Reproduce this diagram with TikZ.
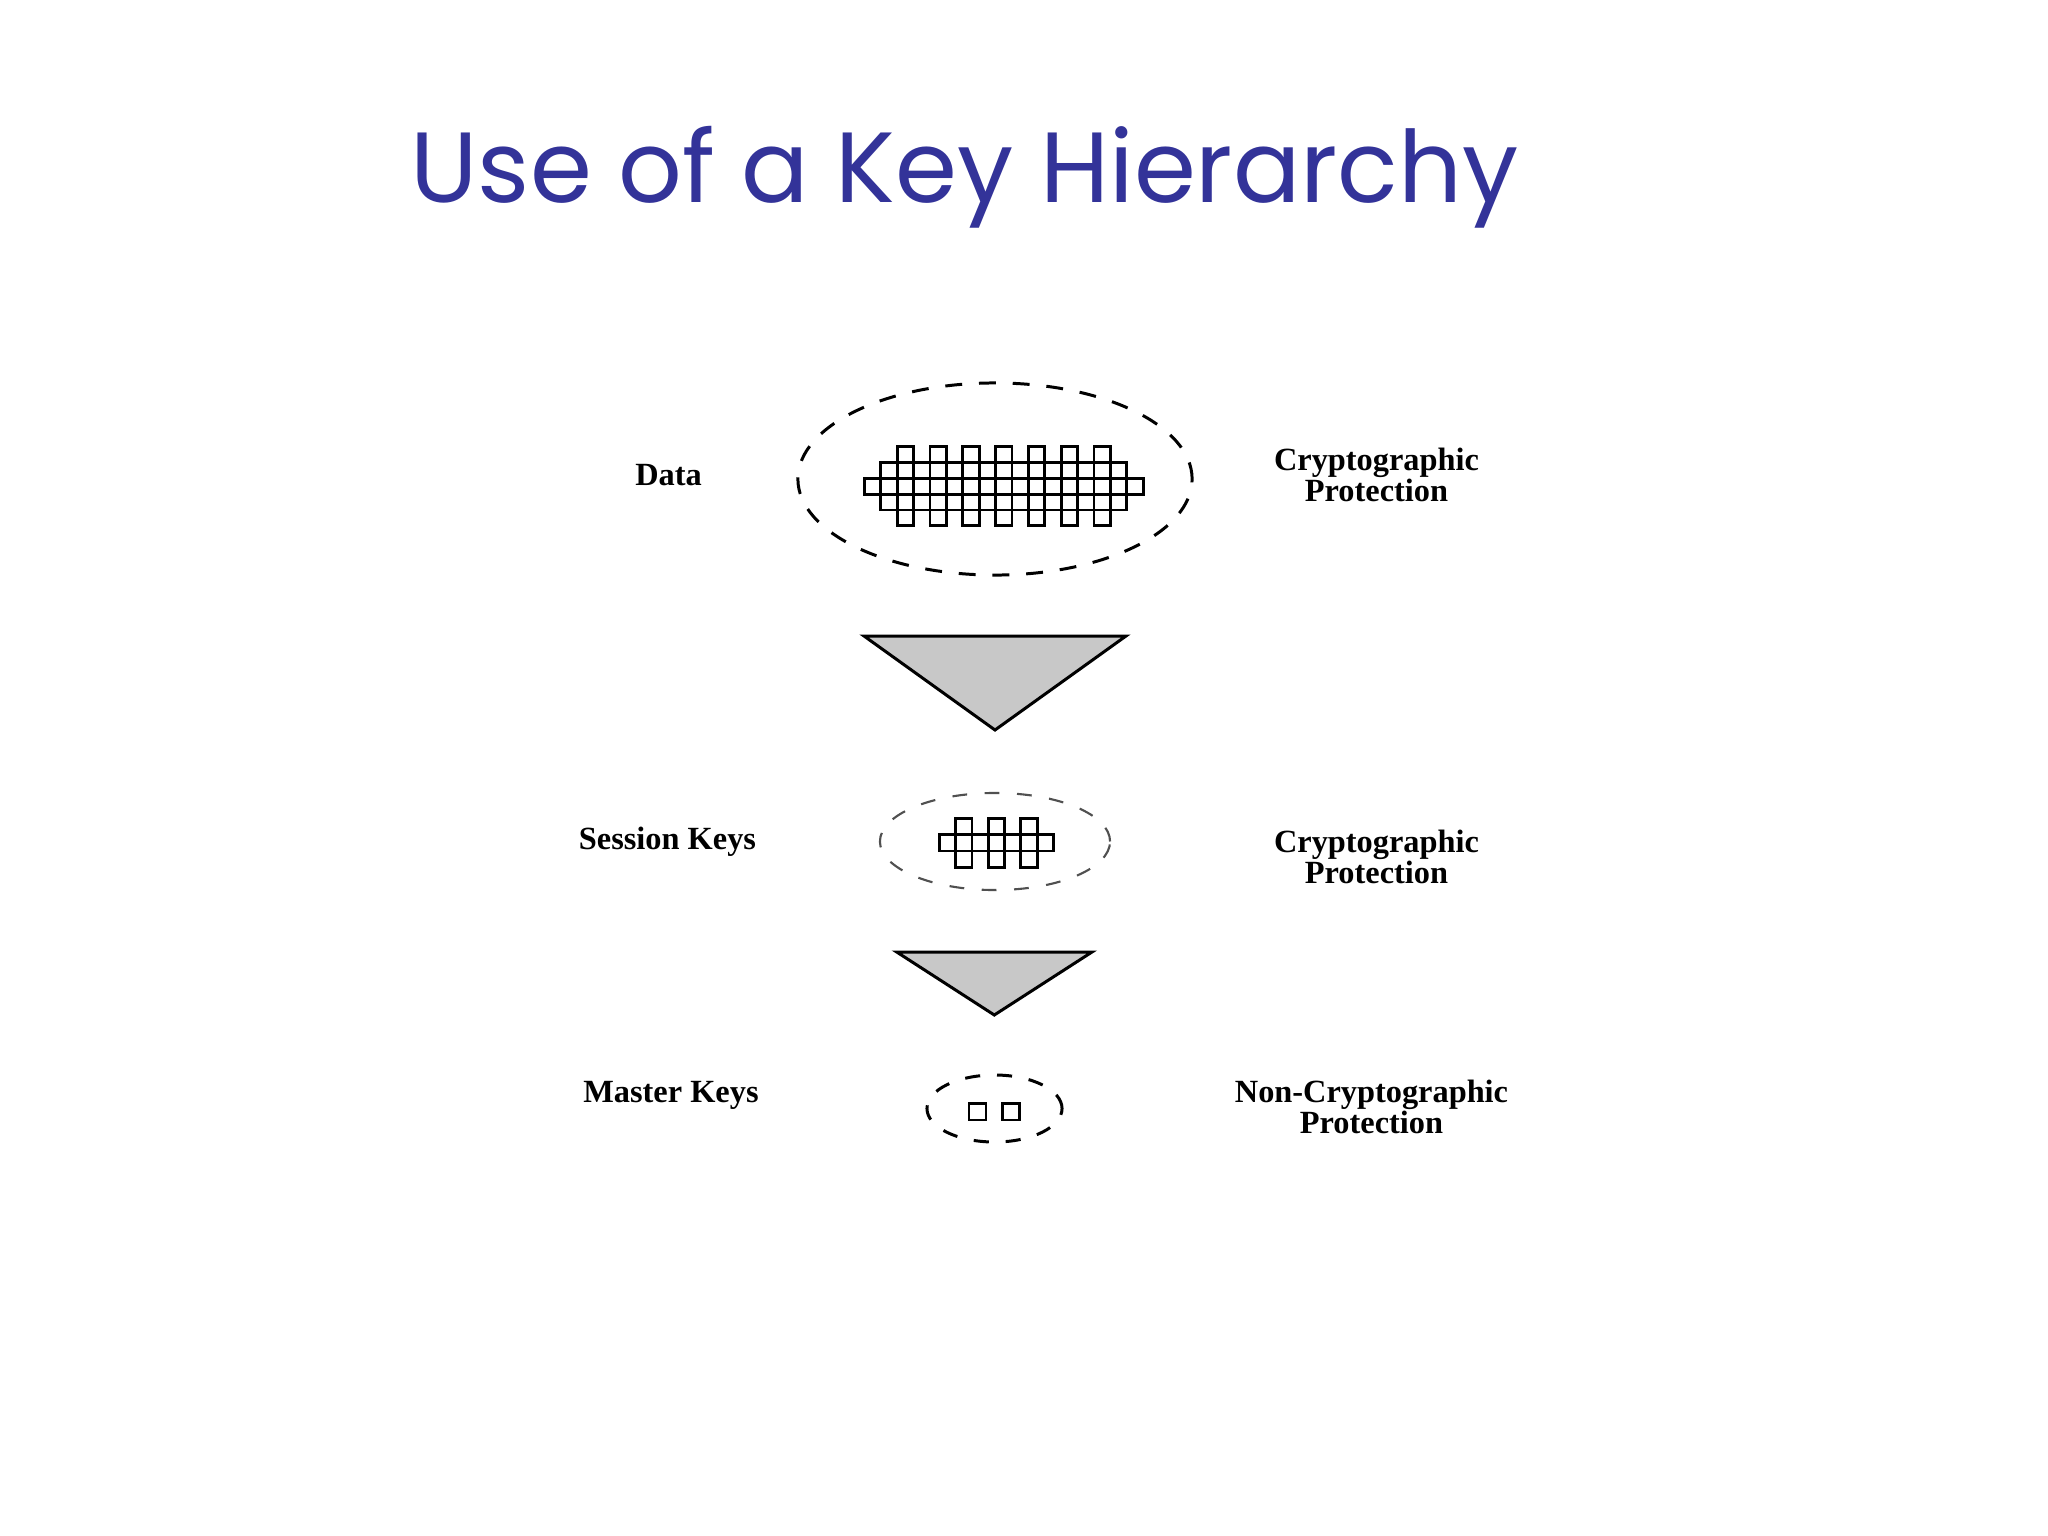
\documentclass[tikz,border=0pt]{standalone}
\usepackage{fontspec}
\setmainfont{Liberation Serif}
\newfontfamily\titlefont{Poppins}
\usetikzlibrary{shapes.geometric}
\definecolor{titleblue}{HTML}{333399}
\definecolor{trigray}{HTML}{C8C8C8}
\definecolor{dashgray}{HTML}{505050}
\begin{document}
\begin{tikzpicture}[x=0.01cm,y=-0.01cm,
  lbl/.style={font=\fontsize{9.2}{8.8}\selectfont\bfseries, anchor=base, inner sep=0pt, align=center},
  cell/.style={draw=black, line width=0.8pt},
  tri/.style={draw=black, fill=trigray, line width=0.85pt, line join=miter},
  dataell/.style={ellipse, draw=black, line width=0.85pt, dash pattern=on 4.8pt off 4.8pt, inner sep=0pt},
  sessell/.style={ellipse, draw=dashgray, line width=0.6pt, dash pattern=on 4.2pt off 5pt, inner sep=0pt},
  mastell/.style={ellipse, draw=black, line width=0.85pt, dash pattern=on 4.3pt off 4.8pt, inner sep=0pt}]
\useasboundingbox[fill=white] (0,0) rectangle (2048,1536);

% title
\node[anchor=base, inner sep=0pt, text=titleblue] (title) at (964.5,202)
  {\resizebox{11.07cm}{!}{\titlefont Use of a Key Hierarchy}};

% data level
\node[dataell, minimum width=3.94cm, minimum height=1.92cm] (dataE) at (995,479) {};
\foreach \c in {0,...,16} \draw[cell] ({864.3+16.4*\c},{446.7+15.8*2}) rectangle +(16.4,15.8);
\foreach \r in {1,3} \foreach \c in {1,...,15} \draw[cell] ({864.3+16.4*\c},{446.7+15.8*\r}) rectangle +(16.4,15.8);
\foreach \r in {0,4} \foreach \c in {2,4,...,14} \draw[cell] ({864.3+16.4*\c},{446.7+15.8*\r}) rectangle +(16.4,15.8);

% first triangle
\draw[tri] (864,636) -- (1126,636) -- (995,730) -- cycle;

% session level
\node[sessell, minimum width=2.30cm, minimum height=0.97cm] (sessE) at (995,841.5) {};
\foreach \c in {0,...,6} \draw[cell] ({939.3+16.3*\c},{818.3+16.3}) rectangle +(16.3,16.3);
\foreach \r in {0,2} \foreach \c in {1,3,5} \draw[cell] ({939.3+16.3*\c},{818.3+16.3*\r}) rectangle +(16.3,16.3);

% second triangle
\draw[tri] (896.7,952) -- (1092,952) -- (994.3,1015) -- cycle;

% master level
\node[mastell, minimum width=1.35cm, minimum height=0.67cm] (mastE) at (994.5,1108.5) {};
\draw[cell] (969,1103.3) rectangle (986,1120);
\draw[cell] (1002.7,1103.3) rectangle (1019.3,1120);

% labels
\node[lbl] (ldata) at (668.5,485) {Data};
\node[lbl] (lsess) at (667.5,849) {Session Keys};
\node[lbl] (lmast) at (671,1102) {Master Keys};
\node[lbl] (rdata) at (1376.5,501) {Cryptographic\\Protection};
\node[lbl] (rsess) at (1376.5,883) {Cryptographic\\Protection};
\node[lbl] (rmast) at (1371.5,1133) {Non-Cryptographic\\Protection};
\end{tikzpicture}
\end{document}
